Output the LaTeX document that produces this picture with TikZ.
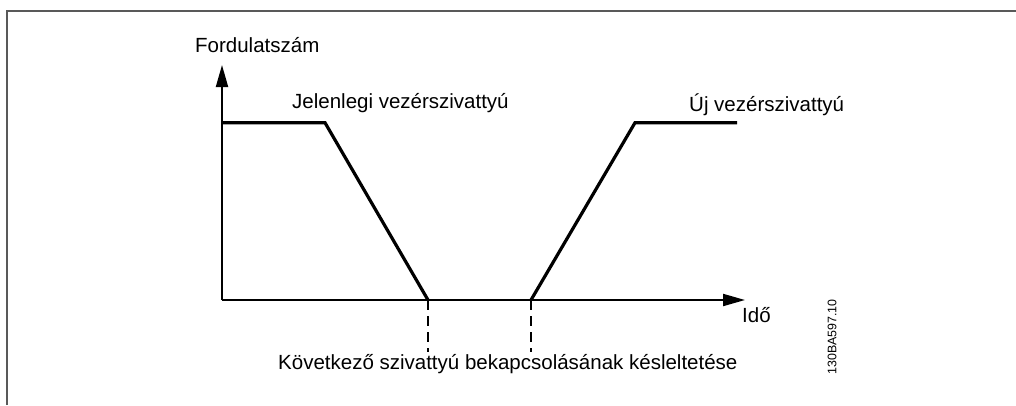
\documentclass[tikz,border=0pt]{standalone}
\usepackage{fontspec}
\setmainfont{Liberation Sans}
\usetikzlibrary{arrows.meta}
\usetikzlibrary{positioning}

\begin{document}
\begin{tikzpicture}[x=1pt,y=-1pt,>={Triangle[length=22pt,width=12pt]},
    axis/.style={line width=2pt},
    speed/.style={line width=3.2pt,line join=miter},
    delay/.style={line width=2pt,dash pattern=on 10pt off 6pt},
    lbl/.style={font=\fontsize{20.5}{24}\selectfont,inner sep=0pt}]
          \useasboundingbox (0,0) rectangle (1016,405);
          \draw[black!65,line width=1.5pt] (7,405) -- (7,11) -- (1016,11);

          \coordinate (O) at (222,300);
          \coordinate (ytip) at (222,65);
          \coordinate (xtip) at (745,300);
          \coordinate (s1) at (222,122.7);
          \coordinate (s2) at (325,122.7);
          \coordinate (d1) at (428,300);
          \coordinate (d2) at (531,300);
          \coordinate (n1) at (635,122.7);
          \coordinate (n2) at (737,122.7);
          \coordinate (d1b) at (428,352);
          \coordinate (d2b) at (531,352);

          \draw[axis,->] (O) -- (ytip);
          \draw[axis,->] (O) -- (xtip);
          \draw[speed] (s1) -- (s2) -- (d1);
          \draw[speed] (d2) -- (n1) -- (n2);
          \draw[delay] (d1) -- (d1b);
          \draw[delay] (d2) -- (d2b);

          \node[lbl,anchor=base west] (fordulat) at (195,52) {Fordulatszám};
          \node[lbl,anchor=base west] (jelen) at (292,108) {Jelenlegi vezérszivattyú};
          \node[lbl,anchor=base west] (uj) at (689,111) {Új vezérszivattyú};
          \node[lbl,anchor=base west] (ido) at (742,322) {Idő};
          \node[lbl,anchor=base west] (kesl) at (278,369) {Következő szivattyú bekapcsolásának késleltetése};
          \node[font=\fontsize{12.4}{14}\selectfont,inner sep=0pt,rotate=90] (kod) at (832,337) {130BA597.10};
        \end{tikzpicture}
\end{document}
